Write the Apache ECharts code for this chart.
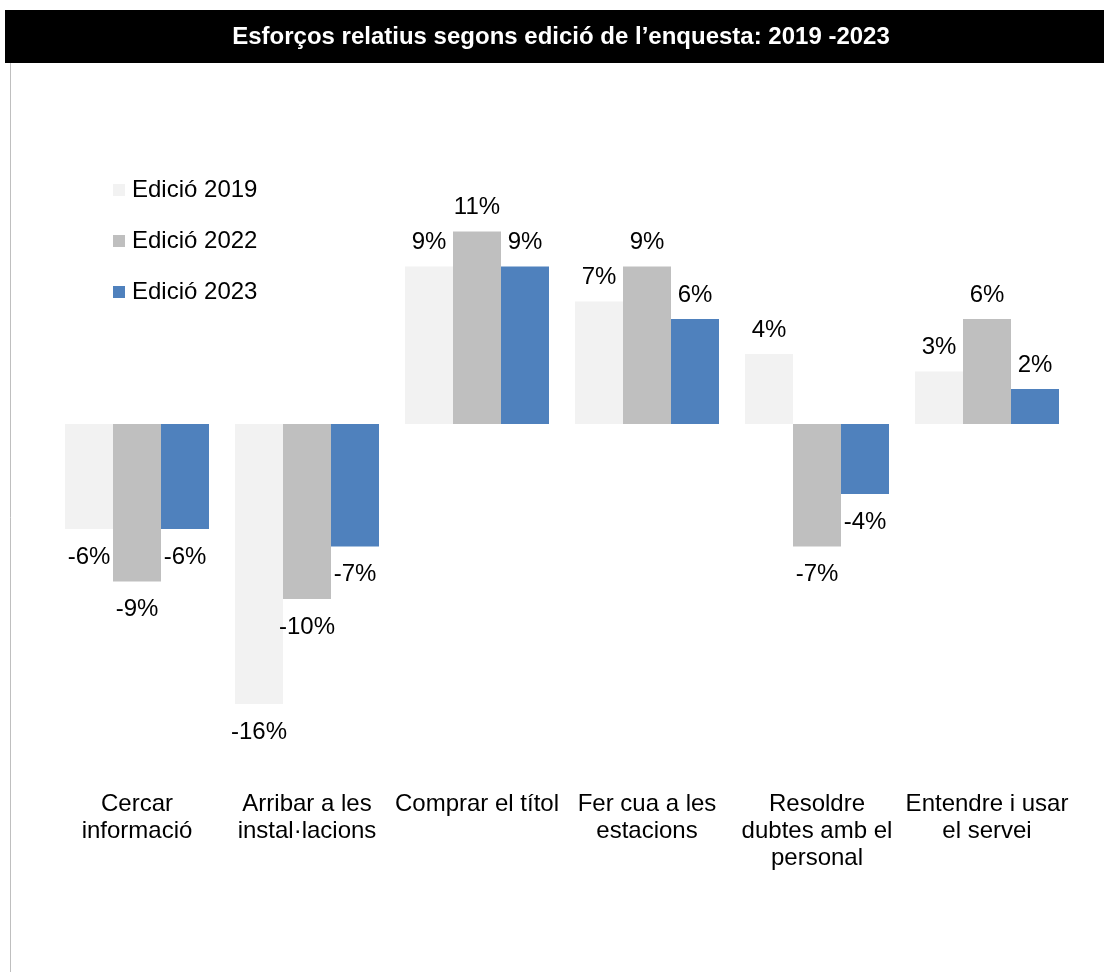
<!DOCTYPE html>
<html>
<head>
<meta charset="utf-8">
<script src="https://cdn.jsdelivr.net/npm/echarts@6/dist/echarts.min.js"></script>
<style>
  html, body { margin: 0; padding: 0; background: #fff; }
  #chart { width: 1104px; height: 972px; }
</style>
</head>
<body>
<div id="chart"></div>
<script>
const titleText = 'Esforços relatius segons edició de l’enquesta: 2019 -2023';
const categories = [
  'Cercar\ninformació',
  'Arribar a les\ninstal·lacions',
  'Comprar el títol',
  'Fer cua a les\nestacions',
  'Resoldre\ndubtes amb el\npersonal',
  'Entendre i usar\nel servei'
];
const seriesNames = ['Edició 2019', 'Edició 2022', 'Edició 2023'];
const values2019 = [-6, -16, 9, 7, 4, 3];
const values2022 = [-9, -10, 11, 9, -7, 6];
const values2023 = [-6, -7, 9, 6, -4, 2];
const seriesColors = ['#f2f2f2', '#bfbfbf', '#4f81bd'];

const FONT = '"Liberation Sans", Arial, sans-serif';

function makeSeries(name, data, color) {
  return {
    name: name,
    type: 'bar',
    barWidth: 48,
    barGap: '0%',
    itemStyle: { color: color },
    data: data.map(v => ({
      value: v,
      label: {
        show: true,
        position: v < 0 ? 'bottom' : 'top',
        distance: v < 0 ? 16 : 12,
        formatter: p => p.value + '%',
        color: '#000',
        fontSize: 24,
        lineHeight: 24,
        fontFamily: FONT
      }
    })),
    emphasis: { disabled: true }
  };
}

const chart = echarts.init(document.getElementById('chart'), null, { renderer: 'canvas' });
chart.setOption({
  backgroundColor: '#fff',
  animation: false,
  graphic: [
    { type: 'rect', shape: { x: 5, y: 10, width: 1099, height: 53 }, style: { fill: '#000' }, silent: true },
    { type: 'line', shape: { x1: 10.5, y1: 63, x2: 10.5, y2: 972 }, style: { stroke: '#bfbfbf', lineWidth: 1 }, silent: true },
    {
      type: 'text', x: 561, y: 37,
      style: {
        text: titleText, fill: '#fff', font: 'bold 24px ' + FONT,
        textAlign: 'center', textVerticalAlign: 'middle'
      },
      silent: true
    }
  ],
  legend: {
    orient: 'vertical',
    left: 108,
    top: 173,
    itemWidth: 12,
    itemHeight: 12,
    itemGap: 27,
    icon: 'rect',
    textStyle: { fontSize: 24, color: '#000', fontFamily: FONT, lineHeight: 24, padding: [0, 0, 0, 2] },
    data: seriesNames
  },
  grid: { left: 52, right: 32, top: 74, bottom: 198, containLabel: false },
  xAxis: {
    type: 'category',
    data: categories,
    axisLine: { show: false },
    axisTick: { show: false },
    axisLabel: {
      interval: 0,
      margin: 17,
      fontSize: 24,
      lineHeight: 27,
      color: '#000',
      fontFamily: FONT,
      verticalAlign: 'top'
    }
  },
  yAxis: {
    type: 'value',
    min: -20,
    max: 20,
    interval: 5,
    show: false,
    splitLine: { show: false }
  },
  series: [
    makeSeries(seriesNames[0], values2019, seriesColors[0]),
    makeSeries(seriesNames[1], values2022, seriesColors[1]),
    makeSeries(seriesNames[2], values2023, seriesColors[2])
  ]
});
</script>
</body>
</html>
